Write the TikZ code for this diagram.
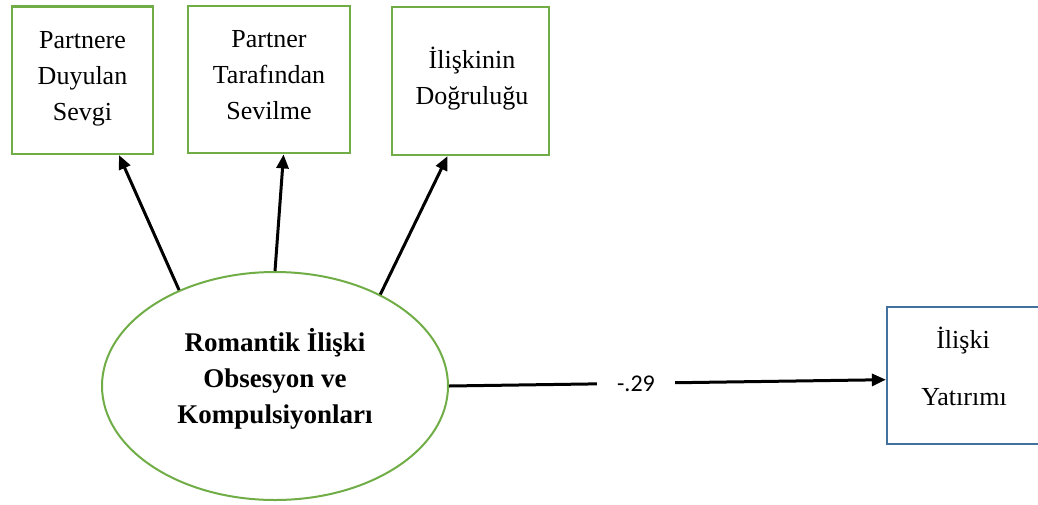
\documentclass[tikz,border=0pt]{standalone}
\usepackage{fontspec}
\setmainfont{LiberationSerif}[Extension=.ttf, UprightFont=*-Regular, BoldFont=*-Bold, ItalicFont=*-Italic, BoldItalicFont=*-BoldItalic]
\newfontfamily\lblfont{Carlito}
\usetikzlibrary{shapes.geometric,arrows.meta}
\definecolor{boxgreen}{HTML}{70AD47}
\definecolor{boxblue}{HTML}{41719C}
\tikzset{
  gbox/.style={draw=boxgreen, line width=2.2pt, inner sep=0pt},
  bbox/.style={draw=boxblue, line width=2.2pt, inner sep=0pt},
  latent/.style={draw=boxgreen, line width=2pt, ellipse, inner sep=0pt},
  txt/.style={anchor=base, inner sep=0pt, font=\fontsize{26}{35}\selectfont},
  btxt/.style={anchor=base, inner sep=0pt, font=\fontsize{27}{35}\selectfont\bfseries},
  path/.style={line width=3pt, -{Triangle[length=14pt,width=12pt]}},
}
\begin{document}
\begin{tikzpicture}[x=1pt,y=-1pt]
\useasboundingbox (0,0) rectangle (1038,504);
% shapes
\node[gbox, minimum width=141pt, minimum height=147.5pt] (b1) at (82.5,80.25) {};
\node[gbox, minimum width=162pt, minimum height=147.6pt] (b2) at (269,79.5) {};
\node[gbox, minimum width=157pt, minimum height=148pt] (b3) at (470.5,81) {};
\node[bbox, minimum width=154pt, minimum height=136.7pt] (b4) at (964,375.6) {};
\node[latent, minimum width=346pt, minimum height=228pt] (e) at (275,386) {};
% texts
\node[txt] (t11) at (82.5,48) {Partnere};
\node[txt] (t12) at (82.5,84) {Duyulan};
\node[txt] (t13) at (82.5,120) {Sevgi};
\node[txt] (t21) at (269,47) {Partner};
\node[txt] (t22) at (269,83) {Tarafından};
\node[txt] (t23) at (269,119) {Sevilme};
\node[txt] (t31) at (472,68) {İlişkinin};
\node[txt] (t32) at (472,104) {Doğruluğu};
\node[txt] (t41) at (963,348) {İlişki};
\node[txt] (t42) at (964,405) {Yatırımı};
\node[btxt] (e1) at (275,351) {Romantik İlişki};
\node[btxt] (e2) at (275,387) {Obsesyon ve};
\node[btxt] (e3) at (275,423) {Kompulsiyonları};
% paths
\draw[path] (e.135) -- (b1.-64.5);
\draw[path] (e.north) -- (b2.-79);
\draw[path] (e.41) -- (b3.-107);
\draw[path] (e.east) -- node[pos=0.428, fill=white, inner xsep=20pt, inner ysep=2pt, font=\lblfont\fontsize{24}{28}\selectfont] (lbl) {-.29} (b4.183);
\end{tikzpicture}
\end{document}
